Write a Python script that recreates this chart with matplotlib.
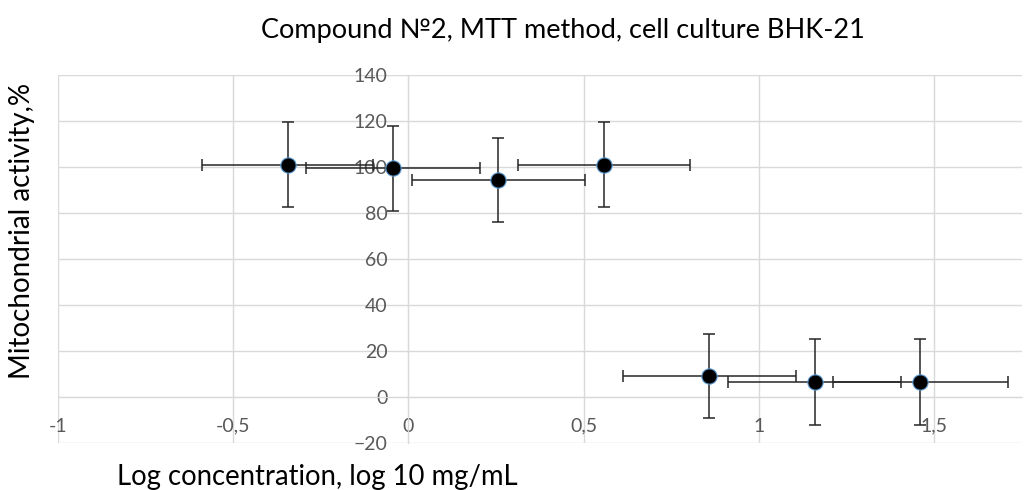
import matplotlib.pyplot as plt
from matplotlib.ticker import FuncFormatter, MultipleLocator

# log10 concentration, activity %, errors
log_conc = [-0.345, -0.044, 0.257, 0.558, 0.859, 1.160, 1.461]
activity = [101.0, 99.5, 94.5, 101.0, 9.2, 6.5, 6.5]
act_err = [18.5, 18.5, 18.3, 18.5, 18.2, 18.7, 18.7]
conc_err = [0.245, 0.248, 0.248, 0.245, 0.246, 0.247, 0.250]

plt.rcParams['font.family'] = ['Lato', 'DejaVu Sans']

fig = plt.figure(figsize=(10.25, 4.9), dpi=100)
ax = fig.add_axes([0.0566, 0.096, 0.94, 0.751])

ax.errorbar(log_conc, activity, yerr=act_err, xerr=conc_err, fmt='none',
            ecolor='#262626', elinewidth=1.1, capsize=4, capthick=1.1, zorder=3)
ax.plot(log_conc, activity, 'o', color='black', markersize=11,
        markeredgecolor='#5b9bd5', markeredgewidth=0.8, zorder=4)

ax.set_xlim(-1, 1.75)
ax.set_ylim(-20, 140)
ax.xaxis.set_major_locator(MultipleLocator(0.5))
ax.yaxis.set_major_locator(MultipleLocator(20))
ax.xaxis.set_major_formatter(FuncFormatter(lambda v, p: ('%g' % v).replace('.', ',')))
ax.grid(True, color='#d9d9d9', linewidth=1)
ax.set_axisbelow(True)

ax.spines['left'].set_position(('data', 0))
ax.spines['bottom'].set_position(('data', 0))
ax.spines['right'].set_visible(False)
ax.spines['top'].set_visible(False)
for s in ['left', 'bottom']:
    ax.spines[s].set_color('#d9d9d9')

ax.tick_params(axis='y', length=0, labelsize=14, labelcolor='#595959', pad=15)
ax.tick_params(axis='x', length=0, labelsize=14, labelcolor='#595959', pad=15)

fig.text(0.549, 0.938, 'Compound №2, MTT method, cell culture BHK-21',
         ha='center', va='center', fontsize=19.5, color='black')
fig.text(0.021, 0.528, 'Mitochondrial activity,%', rotation=90,
         ha='center', va='center', fontsize=20, color='black')
fig.text(0.31, 0.027, 'Log concentration, log 10 mg/mL',
         ha='center', va='center', fontsize=19.8, color='black')

plt.savefig('out.png', dpi=100)
